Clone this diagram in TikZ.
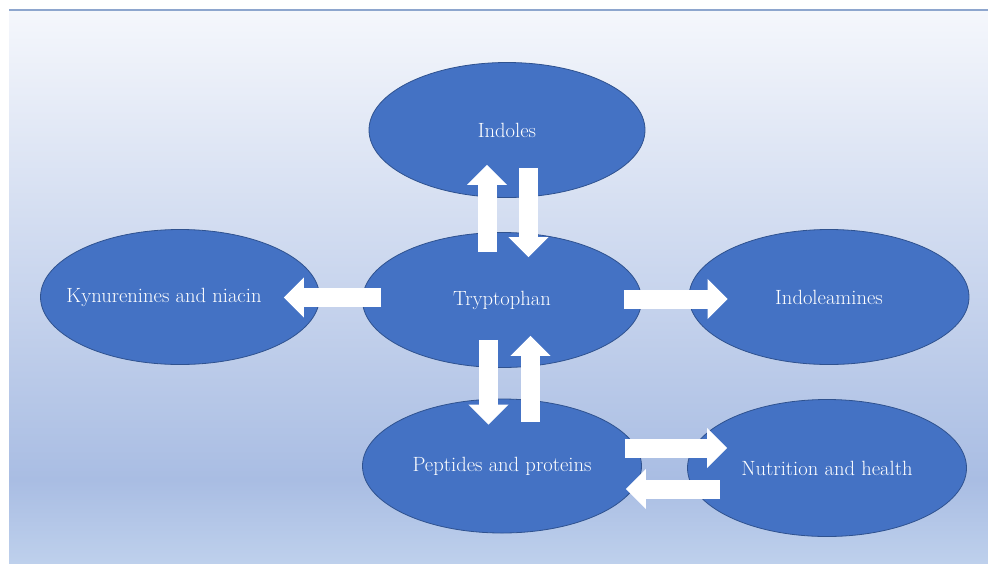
\documentclass[tikz,border=0pt]{standalone}
\usepackage{tikz}
\usetikzlibrary{arrows.meta,shapes.geometric,calc}
\definecolor{BgTop}{HTML}{F5F7FC}
\definecolor{BgMid}{HTML}{A9BDE3}
\definecolor{BgBot}{HTML}{BED0EC}
\definecolor{TopLine}{HTML}{8EA6CE}
\definecolor{EllFill}{HTML}{4472C4}
\definecolor{EllDraw}{HTML}{2F528F}
\begin{document}
\begin{tikzpicture}[
  x=1pt, y=-1pt,
  every node/.style={font=\fontsize{20.6}{24}\selectfont},
  elp/.style={ellipse, draw=EllDraw, line width=0.8pt, fill=EllFill, text=white,
              inner sep=0pt, minimum width=279pt, minimum height=135pt},
  blk/.style={white, line width=19pt,
              -{Triangle[width=39pt,length=20pt]}},
]
\useasboundingbox (0,0) rectangle (988,563);
% background
\shade[top color=BgTop, bottom color=BgMid] (9,10) rectangle (988,480);
\shade[top color=BgMid, bottom color=BgBot] (9,480) rectangle (988,563);
\draw[TopLine, line width=2pt] (9,10) -- (988,10);
% ellipses
\node[elp, minimum width=276pt] (ind) at (507,130) {Indoles};
\node[elp] (trp) at (502,300) {Tryptophan};
\node[elp] (kyn) at (180,297) {};
\node[text=white] (kyntxt) at (164,297) {Kynurenines and niacin};
\node[elp, minimum width=280pt] (ida) at (829,297) {Indoleamines};
\node[elp, minimum height=134pt] (pep) at (502,466) {Peptides and proteins};
\node[elp, minimum height=137pt] (nut) at (827,468) {Nutrition and health};
% block arrows
\draw[blk] ($(trp.north)+(-15,20)$)   -- ($(ind.south)+(-20,-33)$);
\draw[blk] ($(ind.south)+(21.5,-30)$) -- ($(trp.north)+(26.5,25)$);
\draw[blk] ($(trp.west)+(19,-2.5)$)   -- ($(kyn.east)+(-36,0.5)$);
\draw[blk] ($(trp.east)+(-18,-1)$)    -- ($(ida.west)+(39,2)$);
\draw[blk] ($(trp.south)+(-13.5,-28)$) -- ($(pep.north)+(-13.5,26)$);
\draw[blk] ($(pep.north)+(28.5,23)$)  -- ($(trp.south)+(28.5,-32)$);
\draw[blk] ($(pep.east)+(-17,-18)$)   -- ($(nut.west)+(40,-20)$);
\draw[blk] ($(nut.west)+(33,21)$)     -- ($(pep.east)+(-16,23)$);
\end{tikzpicture}
\end{document}
